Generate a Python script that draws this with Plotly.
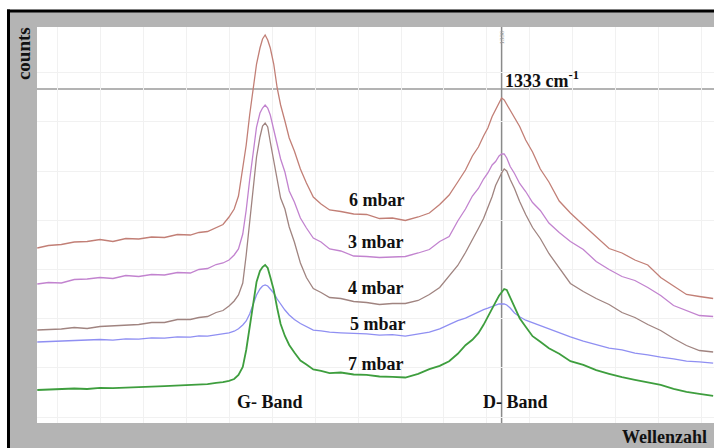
import plotly.graph_objects as go

# Raman shift (cm^-1), shared by all spectra (axis runs high -> low)
wavenumber = [1873, 1860, 1845, 1830, 1815, 1800, 1785, 1770, 1755, 1740,
              1725, 1710, 1695, 1685, 1675, 1665, 1657, 1650, 1644, 1639,
              1634, 1630, 1626, 1622, 1618, 1614, 1611, 1608, 1605, 1602,
              1598, 1594, 1590, 1585, 1580, 1574, 1567, 1560, 1552, 1543,
              1533, 1520, 1505, 1490, 1475, 1460, 1445, 1430, 1417, 1405,
              1394, 1384, 1375, 1367, 1360, 1354, 1349, 1344, 1340, 1336,
              1333, 1330, 1327, 1323, 1318, 1312, 1305, 1297, 1288, 1278,
              1266, 1253, 1238, 1223, 1208, 1193, 1178, 1163, 1148, 1133,
              1118, 1103, 1087]

counts_6mbar = [1750, 1775, 1785, 1810, 1815, 1835, 1815, 1845, 1840, 1860,
                1855, 1885, 1880, 1905, 1915, 1955, 1985, 2060, 2140, 2270,
                2530, 2780, 3080, 3360, 3590, 3750, 3840, 3880, 3830, 3750,
                3590, 3350, 3180, 3020, 2850, 2720, 2540, 2400, 2260, 2190,
                2130, 2115, 2090, 2085, 2045, 2050, 2025, 2060, 2100, 2185,
                2280, 2410, 2530, 2670, 2760, 2870, 2950, 3065, 3135, 3210,
                3250, 3230, 3185, 3135, 3050, 2965, 2830, 2710, 2540, 2410,
                2220, 2100, 1980, 1860, 1745, 1700, 1630, 1580, 1455, 1370,
                1285, 1265, 1245]

counts_3mbar = [1390, 1405, 1400, 1435, 1440, 1455, 1445, 1475, 1465, 1485,
                1480, 1505, 1500, 1535, 1545, 1585, 1600, 1630, 1680, 1740,
                1890, 2130, 2430, 2700, 2960, 3100, 3150, 3180, 3150, 3080,
                2930, 2760, 2640, 2510, 2320, 2210, 2050, 1950, 1850, 1810,
                1740, 1720, 1670, 1665, 1655, 1660, 1665, 1700, 1735, 1815,
                1865, 2020, 2140, 2270, 2345, 2440, 2500, 2580, 2615, 2670,
                2690, 2690, 2650, 2565, 2495, 2395, 2315, 2205, 2125, 2000,
                1905, 1815, 1735, 1615, 1535, 1465, 1425, 1355, 1275, 1175,
                1125, 1075, 1065]

counts_4mbar = [930, 935, 940, 955, 945, 965, 970, 975, 985, 1005,
                1005, 1035, 1035, 1055, 1065, 1105, 1125, 1170, 1220, 1280,
                1400, 1680, 2000, 2360, 2660, 2860, 2970, 3000, 2960, 2810,
                2630, 2430, 2250, 2140, 1960, 1810, 1600, 1455, 1345, 1305,
                1255, 1245, 1215, 1205, 1185, 1195, 1195, 1225, 1285, 1355,
                1465, 1575, 1705, 1825, 1945, 2045, 2155, 2265, 2375, 2450,
                2500, 2540, 2520, 2435, 2345, 2215, 2085, 1955, 1845, 1695,
                1555, 1395, 1315, 1245, 1185, 1105, 1055, 985, 925, 845,
                775, 725, 710]

counts_5mbar = [810, 815, 815, 825, 825, 835, 828, 842, 838, 852,
                848, 862, 858, 872, 868, 882, 888, 902, 918, 942,
                980, 1020, 1090, 1190, 1280, 1340, 1370, 1380, 1370, 1340,
                1300, 1240, 1190, 1130, 1080, 1035, 995, 965, 928, 922,
                908, 902, 896, 892, 878, 884, 868, 892, 908, 942,
                988, 1024, 1048, 1082, 1108, 1134, 1148, 1162, 1178, 1192,
                1190, 1190, 1180, 1150, 1100, 1062, 1028, 1002, 968, 942,
                898, 862, 818, 782, 748, 732, 698, 682, 658, 642,
                618, 612, 598]

counts_7mbar = [330, 335, 338, 345, 340, 352, 348, 355, 358, 364,
                368, 374, 378, 384, 388, 402, 408, 422, 440, 480,
                560, 730, 960, 1230, 1410, 1520, 1560, 1580, 1550, 1460,
                1330, 1150, 990, 870, 780, 705, 625, 585, 535, 522,
                498, 505, 485, 482, 465, 462, 455, 492, 538, 572,
                618, 692, 778, 832, 898, 982, 1068, 1142, 1208, 1272,
                1310, 1340, 1330, 1250, 1150, 1048, 962, 868, 812, 748,
                692, 618, 582, 528, 492, 458, 432, 408, 382, 342,
                312, 292, 272]

series_names = ["6 mbar", "3 mbar", "4 mbar", "5 mbar", "7 mbar"]
series_values = [counts_6mbar, counts_3mbar, counts_4mbar, counts_5mbar, counts_7mbar]
series_colors = ["#c27f76", "#c283cf", "#a08480", "#8f8ff2", "#3e9e3e"]
series_widths = [1.3, 1.3, 1.3, 1.3, 1.8]

# label anchor positions (wavenumber, counts) for series names
label_wn = [1478, 1479, 1479, 1477, 1479]
label_counts = [2230, 1810, 1350, 990, 590]

marker_wavenumber = 1333
marker_counts = 3340

fig = go.Figure()
for name, vals, col, w in zip(series_names, series_values, series_colors, series_widths):
    fig.add_trace(go.Scatter(x=wavenumber, y=vals, mode="lines", name=name,
                             line=dict(color=col, width=w), showlegend=False,
                             hoverinfo="skip"))

serif = "Liberation Serif"
ann = []
for name, lx, ly in zip(series_names, label_wn, label_counts):
    ann.append(dict(x=lx, y=ly, xref="x", yref="y", text="<b>%s</b>" % name,
                    xanchor="center", yanchor="middle",
                    showarrow=False, font=dict(family=serif, size=18, color="#111")))
ann += [
    dict(x=1602, y=210, xref="x", yref="y", text="<b>G- Band</b>", showarrow=False,
         xanchor="center", yanchor="middle",
         font=dict(family=serif, size=18, color="#111")),
    dict(x=1317, y=210, xref="x", yref="y", text="<b>D- Band</b>", showarrow=False,
         xanchor="center", yanchor="middle",
         font=dict(family=serif, size=18, color="#111")),
    dict(x=1331, y=3440, xref="x", yref="y", text="<b>1333 cm<sup>-1</sup></b>",
         xanchor="left", yanchor="middle", showarrow=False,
         font=dict(family=serif, size=18, color="#111")),
    dict(x=1332, y=3860, xref="x", yref="y", text="1330", textangle=-90,
         xanchor="center", yanchor="middle",
         showarrow=False, font=dict(family=serif, size=7, color="#999")),
    dict(x=0.9276, y=-0.0354, xref="paper", yref="paper", text="<b>Wellenzahl</b>",
         xanchor="center", yanchor="middle",
         showarrow=False, font=dict(family=serif, size=18, color="#111")),
    dict(x=-0.0207, y=0.934, xref="paper", yref="paper", text="<b>counts</b>",
         xanchor="center", yanchor="middle",
         textangle=-90, showarrow=False, font=dict(family=serif, size=19, color="#111")),
]

gray = "#b4b4b4"
shapes = [
    # gray frame areas in the margins (left, top, bottom)
    dict(type="rect", xref="paper", yref="paper", x0=-0.0443, x1=0, y0=-0.2, y1=1.0404,
         fillcolor=gray, line=dict(width=0), layer="below"),
    dict(type="rect", xref="paper", yref="paper", x0=-0.0443, x1=1.1, y0=1.0, y1=1.0404,
         fillcolor=gray, line=dict(width=0), layer="below"),
    dict(type="rect", xref="paper", yref="paper", x0=-0.0443, x1=1.1, y0=-0.2, y1=0,
         fillcolor=gray, line=dict(width=0), layer="below"),
    # black frame (top and left)
    dict(type="line", xref="paper", yref="paper", x0=-0.0443, x1=1.1, y0=1.0404, y1=1.0404,
         line=dict(color="black", width=3), layer="above"),
    dict(type="line", xref="paper", yref="paper", x0=-0.0421, x1=-0.0421, y0=1.0442, y1=-0.2,
         line=dict(color="black", width=3), layer="above"),
    # marker lines
    dict(type="line", xref="paper", yref="y", x0=0, x1=1, y0=marker_counts, y1=marker_counts,
         line=dict(color="#9a9a9a", width=1.5), layer="below"),
    dict(type="line", xref="x", yref="paper", x0=marker_wavenumber, x1=marker_wavenumber,
         y0=0, y1=1, line=dict(color="#8a8a8a", width=1.5), layer="below"),
]

fig.update_layout(
    width=714, height=448,
    margin=dict(l=37, r=0, t=27, b=25, autoexpand=False),
    paper_bgcolor="white", plot_bgcolor="white",
    annotations=ann, shapes=shapes, showlegend=False,
)
fig.update_xaxes(range=[1873.3, 1086.0], showticklabels=False, ticks="",
                 showline=False, zeroline=False, showgrid=True, gridcolor="#f1f1f1",
                 gridwidth=1, tick0=1850, dtick=50)
fig.update_yaxes(range=[0, 3960], showticklabels=False, ticks="",
                 showline=False, zeroline=False, showgrid=True, gridcolor="#f1f1f1",
                 gridwidth=1, tick0=60, dtick=492)

css_js = (
    "var st=document.createElement('style');"
    "st.textContent='html,body{margin:0;padding:0;overflow:hidden;background:#fff;}"
    "::-webkit-scrollbar{width:0;height:0;display:none;}';"
    "document.head.appendChild(st);"
    "document.documentElement.style.overflow='hidden';"
    "document.body.style.margin='0';document.body.style.overflow='hidden';"
)
fig.write_html("out.html", config={"displayModeBar": False}, post_script=css_js)
